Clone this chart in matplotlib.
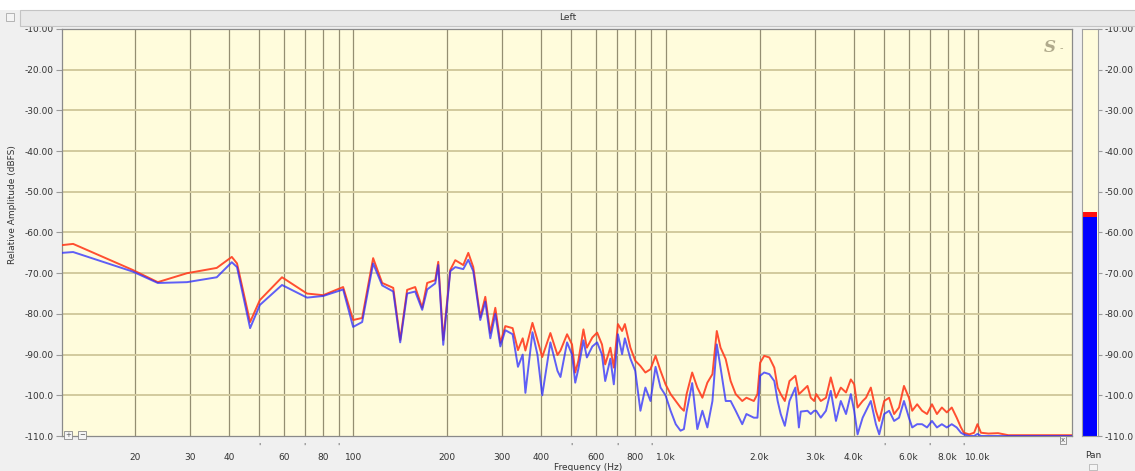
import matplotlib
matplotlib.use("Agg")
import matplotlib.pyplot as plt
from matplotlib.patches import Rectangle

# ------------------------------------------------------------------
# Data (Hz, dBFS)
# ------------------------------------------------------------------
freq_hz = [
    11.7, 12.7, 19.7, 23.7, 29.4, 36.6, 40.9, 42.5, 46.8, 50.3,
    59.2, 71.2, 80.2, 92.9, 100, 106.9, 115.9, 123.9, 134.4, 141.5,
    148.9, 158.0, 166.4, 172.6, 183.2, 187.3, 194.3, 204.6, 212.3, 225.2,
    233.7, 242.4, 255.3, 264.9, 274.9, 285.2, 296.0, 307, 324, 337,
    349, 356, 375, 389, 403, 428, 451, 461, 484, 502,
    514, 526, 546, 560, 583, 604, 626, 641, 666, 683,
    704, 726, 741, 772, 800, 831, 862, 895, 929, 964,
    1000, 1038, 1078, 1117, 1145, 1168, 1217, 1264, 1312, 1361,
    1413, 1459, 1500, 1558, 1616, 1677, 1760, 1815, 1917, 1969,
    2008, 2069, 2149, 2229, 2285, 2337, 2409, 2493, 2604, 2672,
    2709, 2847, 2916, 2991, 3036, 3140, 3262, 3380, 3512, 3639,
    3782, 3918, 4016, 4118, 4275, 4382, 4541, 4714, 4830, 5010,
    5196, 5391, 5590, 5797, 6013, 6160, 6388, 6625, 6871, 7126,
    7391, 7665, 7949, 8245, 8550, 8823, 9014, 9374, 9721, 9961,
    10226, 10800, 11600, 12500, 20000,
]
red_db = [
    -63.1, -62.8, -69.2, -72.2, -70.0, -68.7, -66.0, -67.6, -82.0, -76.6,
    -71.0, -75.0, -75.4, -73.4, -81.5, -81.0, -66.3, -72.4, -73.6, -86.4,
    -74.1, -73.4, -78.5, -72.4, -71.7, -67.2, -86.4, -69.2, -66.8, -68.0,
    -65.0, -68.5, -80.8, -75.8, -84.7, -78.5, -87.1, -83.0, -83.5, -88.9,
    -86.0, -89.0, -82.2, -86.4, -90.6, -84.7, -90.1, -89.0, -85.0, -87.5,
    -94.4, -91.5, -83.8, -88.3, -85.8, -84.6, -87.5, -92.4, -88.3, -93.2,
    -82.5, -84.2, -82.5, -88.3, -91.5, -92.8, -94.4, -93.6, -90.3, -94.0,
    -97.3, -99.7, -101.4, -103.0, -103.8, -99.7, -94.4, -98.1, -100.6, -96.9,
    -94.8, -84.2, -88.3, -91.1, -96.5, -99.7, -101.4, -100.6, -101.4, -99.7,
    -92.0, -90.3, -90.7, -93.2, -98.1, -99.7, -101.4, -96.5, -95.2, -99.7,
    -99.3, -97.7, -100.6, -101.4, -99.7, -101.4, -100.6, -95.6, -100.6, -98.1,
    -99.3, -96.1, -97.3, -103.0, -101.4, -100.6, -98.1, -103.8, -106.3, -101.4,
    -100.6, -104.6, -103.0, -97.7, -100.6, -103.8, -102.2, -103.8, -104.6, -102.2,
    -104.6, -103.0, -104.2, -103.0, -105.5, -107.9, -109.2, -109.6, -109.2, -107.1,
    -109.2, -109.4, -109.3, -109.8, -109.8,
]
blue_db = [
    -65.0, -64.8, -69.6, -72.4, -72.2, -71.0, -67.3, -68.5, -83.5, -77.8,
    -72.9, -76.0, -75.6, -74.0, -83.2, -82.0, -67.6, -73.0, -74.5, -87.0,
    -75.0, -74.5, -79.0, -74.0, -72.5, -68.0, -87.6, -69.5, -68.5, -69.0,
    -66.7, -69.5, -81.5, -77.0, -86.0, -80.0, -88.0, -84.0, -85.0, -93.0,
    -90.0, -99.4, -84.5, -90.0, -100.0, -87.0, -94.0, -95.5, -87.0, -90.0,
    -96.9, -93.5, -86.5, -90.7, -88.0, -87.0, -90.0, -96.5, -91.0, -97.3,
    -85.0, -89.9, -86.0, -91.0, -94.0, -103.8, -98.1, -101.4, -93.0, -98.1,
    -100.0, -103.8, -107.1, -108.7, -108.3, -104.0, -97.0, -108.3, -103.8, -107.9,
    -101.4, -87.5, -93.2, -101.4, -101.4, -103.8, -107.1, -104.6, -105.5, -105.5,
    -95.2, -94.4, -94.8, -96.5, -101.4, -104.6, -107.5, -101.4, -98.1, -107.9,
    -104.0, -103.8, -104.6, -103.8, -103.8, -105.5, -103.8, -98.9, -106.3, -101.4,
    -104.6, -99.7, -103.8, -109.6, -105.5, -103.8, -101.4, -107.1, -109.6, -104.6,
    -103.8, -106.3, -105.5, -101.4, -105.5, -107.9, -107.1, -107.1, -107.9, -106.3,
    -107.9, -107.1, -107.9, -107.1, -107.9, -109.2, -109.6, -110.0, -110.0, -109.5,
    -110.0, -110.0, -110.0, -110.0, -110.0,
]

# level meter on the right (dBFS)
meter_level = -56.2
meter_peak = -55.0

# axis ticks
grid_freqs = [20, 30, 40, 50, 60, 70, 80, 90, 100, 200, 300, 400, 500, 600,
              700, 800, 900, 1000, 2000, 3000, 4000, 5000, 6000, 7000, 8000,
              9000, 10000]
label_freqs = [20, 30, 40, 60, 80, 100, 200, 300, 400, 600, 800, 1000,
               2000, 3000, 4000, 6000, 8000, 10000]
label_texts = ["20", "30", "40", "60", "80", "100", "200", "300", "400",
               "600", "800", "1.0k", "2.0k", "3.0k", "4.0k", "6.0k", "8.0k",
               "10.0k"]
minor_freqs = [50, 70, 90, 500, 700, 900, 5000, 7000, 9000]
db_ticks = [-10, -20, -30, -40, -50, -60, -70, -80, -90, -100, -110]
db_texts = ["-10.00", "-20.00", "-30.00", "-40.00", "-50.00", "-60.00",
            "-70.00", "-80.00", "-90.00", "-100.0", "-110.0"]

W, H = 1135, 471


def fx(px):
    return px / W


def fy(py):
    return 1 - py / H


fig = plt.figure(figsize=(W / 100, H / 100), dpi=100)
fig.patch.set_facecolor("#f0f0f0")

# white strip at very top and grey title bar
fig.patches.append(Rectangle((0, fy(10)), 1, 10 / H, transform=fig.transFigure,
                             facecolor="white", edgecolor="none", zorder=0))
fig.patches.append(Rectangle((fx(20), fy(26)), 1, 16 / H, transform=fig.transFigure,
                             facecolor="#e9e9e9", edgecolor="#c4c4c4", lw=0.8, zorder=0))
fig.patches.append(Rectangle((fx(6), fy(21)), 8 / W, 8 / H, transform=fig.transFigure,
                             facecolor="#f4f4f4", edgecolor="#aaaaaa", lw=0.6, zorder=1))
fig.text(fx(568), fy(17), "Left", ha="center", va="center", fontsize=6.5, color="#333333")

# ------------------------------------------------------------------
# Main spectrum axes
# ------------------------------------------------------------------
ax = fig.add_axes([fx(62), fy(436), (1072 - 62) / W, (436 - 29) / H])
ax.set_facecolor("#fffcdc")
ax.set_xscale("log")
ax.set_xlim(11.7, 20000)
ax.set_ylim(-110, -10)

for f in grid_freqs:
    ax.axvline(f, color="#948e72", lw=0.9, zorder=1)
for d in db_ticks[1:-1]:
    ax.axhline(d, color="#d2ca9e", lw=1.4, zorder=1)

ax.plot(freq_hz, red_db, color="#ff3c1e", lw=1.4, zorder=3, alpha=0.9)
ax.plot(freq_hz, blue_db, color="#2a2aff", lw=1.4, zorder=4, alpha=0.75)

ax.set_xticks(label_freqs, label_texts)
ax.set_xticks(minor_freqs, ["'"] * len(minor_freqs), minor=True)
ax.tick_params(axis="x", which="major", length=0, pad=12, labelsize=6.5,
               labelcolor="#333333")
ax.tick_params(axis="x", which="minor", length=0, pad=5, labelsize=6,
               labelcolor="#555555")
ax.set_yticks(db_ticks, db_texts)
ax.tick_params(axis="y", length=4, color="#999999", labelsize=6.5,
               labelcolor="#333333", pad=2)
for s in ax.spines.values():
    s.set_color("#8a8a8a")
    s.set_linewidth(0.9)

# logo in top-right corner
ax.text(0.978, 0.955, "S", transform=ax.transAxes, ha="center", va="center",
        family="DejaVu Serif", style="italic", fontweight="bold", fontsize=12,
        color="#b0aa8c")
ax.text(0.989, 0.952, "-", transform=ax.transAxes, ha="center", va="center",
        fontsize=7, color="#b0aa8c")

# zoom buttons
for x0, lbl in [(63, "+"), (77, "−")]:
    fig.text(fx(x0 + 5), fy(435), lbl, ha="center", va="center", fontsize=5,
             color="#555555",
             bbox=dict(boxstyle="square,pad=0.15", fc="#f4f4f4", ec="#888888", lw=0.6))
fig.text(fx(1063), fy(440), "x", ha="center", va="center", fontsize=5,
         color="#555555",
         bbox=dict(boxstyle="square,pad=0.2", fc="#f4f4f4", ec="#888888", lw=0.6))

fig.text(fx(13), fy(205), "Relative Amplitude (dBFS)", rotation=90,
         ha="center", va="center", fontsize=6.5, color="#333333")
fig.text(fx(588), fy(467), "Frequency (Hz)", ha="center", va="center",
         fontsize=6.5, color="#333333")

# ------------------------------------------------------------------
# Level meter
# ------------------------------------------------------------------
mx = fig.add_axes([fx(1082), fy(436), 16 / W, (436 - 29) / H])
mx.set_facecolor("#fffcdc")
mx.set_xlim(-0.5, 0.5)
mx.set_ylim(-110, -10)
mx.bar([0], [meter_level + 110], bottom=-110, width=0.9, color="#0000ff", zorder=2)
mx.bar([0], [meter_peak - meter_level], bottom=meter_level, width=0.9,
       color="#ff1010", zorder=2)
mx.set_xticks([])
mx.set_yticks(db_ticks, db_texts)
mx.tick_params(axis="y", left=False, labelleft=False, right=True, labelright=True,
               length=3, color="#999999", labelsize=6.5, labelcolor="#333333", pad=2)
for s in mx.spines.values():
    s.set_color("#a0a0a0")
    s.set_linewidth(0.8)

fig.text(fx(1093), fy(456), "Pan", ha="center", va="center", fontsize=6.5,
         color="#333333")
fig.patches.append(Rectangle((fx(1089), fy(470)), 8 / W, 6 / H, transform=fig.transFigure,
                             facecolor="#f4f4f4", edgecolor="#aaaaaa", lw=0.5, zorder=1))

fig.savefig("out.png", dpi=100, facecolor=fig.get_facecolor())
